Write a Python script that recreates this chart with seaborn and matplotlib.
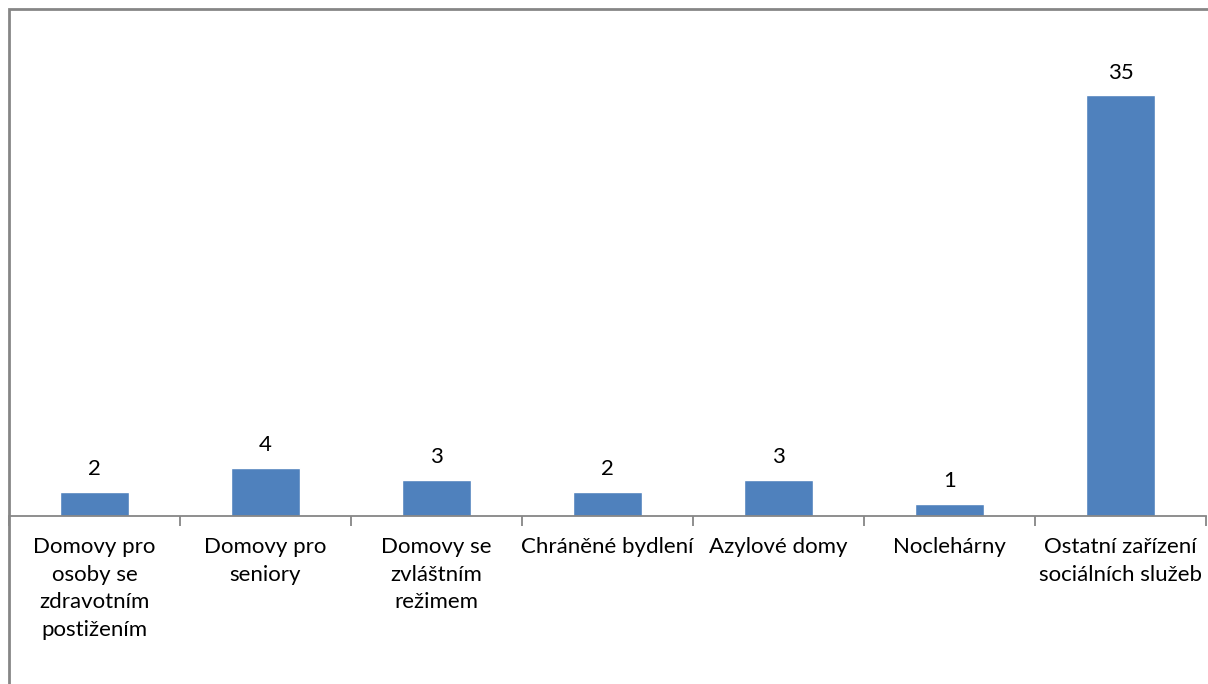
import matplotlib
matplotlib.use("Agg")
import matplotlib.pyplot as plt
import seaborn as sns
import pandas as pd
from matplotlib.patches import Rectangle

# === DATA ===
categories = [
    "Domovy pro\nosoby se\nzdravotním\npostižením",
    "Domovy pro\nseniory",
    "Domovy se\nzvláštním\nrežimem",
    "Chráněné bydlení",
    "Azylové domy",
    "Noclehárny",
    "Ostatní zařízení\nsociálních služeb",
]
counts = [2, 4, 3, 2, 3, 1, 35]

df = pd.DataFrame({"kategorie": categories, "pocet": counts})

# === STYLE ===
sns.set_style("white")
plt.rcParams["font.family"] = ["Lato", "DejaVu Sans"]
bar_color = "#4F81BD"
line_color = "#868686"
text_color = "#000000"

fig = plt.figure(figsize=(12.08, 6.84), dpi=100)
W, H = 1208, 684
ax = fig.add_axes([9 / W, (H - 516) / H, 1197 / W, 481 / H])

sns.barplot(data=df, x="kategorie", y="pocet", color=bar_color,
            width=0.4, saturation=1, ax=ax)

ax.set_xlim(-0.5, len(categories) - 0.5)
ax.set_ylim(0, 40)
ax.set_xlabel("")
ax.set_ylabel("")
ax.set_yticks([])

for s in ["top", "right", "left"]:
    ax.spines[s].set_visible(False)
ax.spines["bottom"].set_color(line_color)
ax.spines["bottom"].set_linewidth(1.3)

ax.set_xticks(range(len(categories)))
ax.set_xticklabels(categories, fontsize=16, linespacing=1.48, va="top",
                   color=text_color)
ax.tick_params(axis="x", which="major", length=0, pad=15)
ax.set_xticks([i + 0.5 for i in range(-1, len(categories))], minor=True)
ax.tick_params(axis="x", which="minor", bottom=True, length=7, width=1.3,
               color=line_color)

for i, v in enumerate(counts):
    ax.annotate(str(v), (i, v), xytext=(0, 9), textcoords="offset points",
                ha="center", va="bottom", fontsize=16, color=text_color)

# chart area border (Excel style), right and bottom edges fall outside
fig.patches.append(Rectangle((8.5 / W, -0.1), 1.2, (H - 9.5) / H + 0.1,
                             transform=fig.transFigure, fill=False,
                             edgecolor=line_color, linewidth=2))

fig.savefig("out.png", dpi=100)
